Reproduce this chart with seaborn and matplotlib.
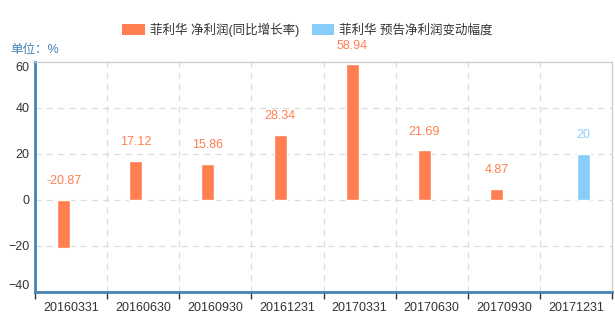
import matplotlib
matplotlib.use("Agg")
import matplotlib.pyplot as plt
import seaborn as sns
import pandas as pd
import numpy as np
from matplotlib.patches import Patch

categories = ["20160331", "20160630", "20160930", "20161231", "20170331", "20170630", "20170930", "20171231"]
growth = [-20.87, 17.12, 15.86, 28.34, 58.94, 21.69, 4.87, None]
forecast = [None, None, None, None, None, None, None, 20]
series_names = ["菲利华 净利润(同比增长率)", "菲利华 预告净利润变动幅度"]
colors = ["#FF7F50", "#87CEFA"]

sns.set_theme(style="white")
plt.rcParams['font.family'] = ['Liberation Sans', 'Noto Sans CJK SC', 'DejaVu Sans']

rows = []
for c, g, f in zip(categories, growth, forecast):
    rows.append({"cat": c, "val": g if g is not None else np.nan, "series": series_names[0]})
    rows.append({"cat": c, "val": f if f is not None else np.nan, "series": series_names[1]})
df = pd.DataFrame(rows)

fig = plt.figure(figsize=(6.15, 3.16), dpi=100)
ax = fig.add_axes([35/615, 24/316, 577/615, 230/316])

sns.barplot(data=df, x="cat", y="val", hue="series", order=categories,
            hue_order=series_names, palette=colors, dodge=True, width=0.41,
            ax=ax, legend=False, saturation=1)

# slight gap between dodged bars
bar_w = 0.18
for p in ax.patches:
    cx = p.get_x() + p.get_width() / 2
    p.set_width(bar_w)
    p.set_x(cx - bar_w / 2)

ax.set_ylim(-40, 60)
ax.set_xlim(-0.5, len(categories) - 0.5)
ax.set_yticks([-40, -20, 0, 20, 40, 60])
ax.set_xlabel("")
ax.set_ylabel("")

# grid
for yv in [-20, 0, 20, 40]:
    ax.axhline(yv, color="#dddddd", lw=0.9, ls=(0, (5, 4)), zorder=0)
for xv in np.arange(0.5, len(categories) - 0.5, 1):
    ax.axvline(xv, color="#dddddd", lw=0.9, ls=(0, (5, 4)), zorder=0)

# spines
for s in ["top", "right"]:
    ax.spines[s].set_color("#cccccc")
    ax.spines[s].set_linewidth(0.9)
for s in ["left", "bottom"]:
    ax.spines[s].set_color("#4682B4")
    ax.spines[s].set_linewidth(2)

# ticks
ax.tick_params(axis="x", which="major", length=0, pad=7, labelsize=9, labelcolor="#333333")
ax.set_xticks(np.arange(-0.5, len(categories), 1), minor=True)
ax.tick_params(axis="x", which="minor", length=5, width=1, color="#333333", bottom=True)
ax.tick_params(axis="y", length=0, pad=4, labelsize=9, labelcolor="#333333")
ylabels = ax.get_yticklabels()
ylabels[-1].set_va("top")
ylabels[0].set_va("bottom")

# value labels, placed over each drawn bar
for si, cont in enumerate(ax.containers):
    for p, v in zip(cont.patches, cont.datavalues):
        if np.isnan(v):
            continue
        cx = p.get_x() + p.get_width() / 2
        ax.annotate(f"{v:g}", (cx, max(v, 0)), xytext=(0, 9), textcoords="offset points",
                    ha="center", va="bottom", color=colors[si], fontsize=9)

fig.text(10/615, 1 - 50/316, "单位：%", color="#4682B4", fontsize=9, va="center", ha="left")

handles = [Patch(facecolor=colors[0], edgecolor="none"), Patch(facecolor=colors[1], edgecolor="none")]
fig.legend(handles, series_names, loc="center", bbox_to_anchor=(0.5, 1 - 30/316), ncol=2,
           frameon=False, fontsize=9, handlelength=1.8, handleheight=1.0, columnspacing=1.0,
           handletextpad=0.4, labelcolor="#333333")

fig.savefig("out.png", dpi=100)
